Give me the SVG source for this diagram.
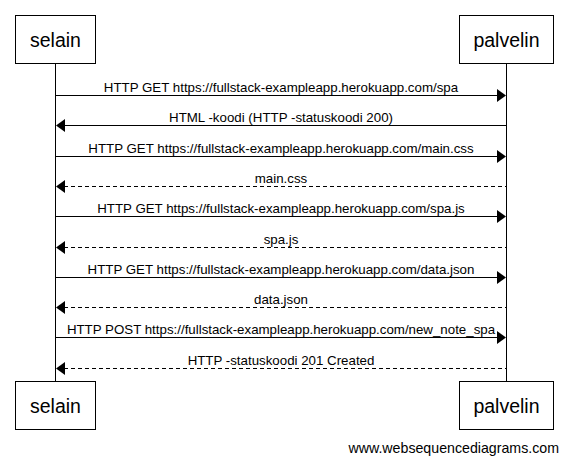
<svg xmlns="http://www.w3.org/2000/svg" width="568" height="464" viewBox="0 0 568 464">
<style>
.box{fill:#fff;stroke:#000;stroke-width:1}
.life{stroke:#000;stroke-width:1}
.pl{font-family:"Liberation Sans",Arial,sans-serif;font-size:19.5px;fill:#000;text-anchor:middle}
.msg{stroke:#000;stroke-width:1;fill:none}
.dash{stroke-dasharray:4,3}
.head{fill:#000;stroke:none}
.lbl{font-family:"Liberation Sans",Arial,sans-serif;font-size:13.3px;fill:#000;text-anchor:middle}
.wm{font-family:"Liberation Sans",Arial,sans-serif;font-size:14.2px;fill:#000;text-anchor:end}
</style>
<rect width="568" height="464" fill="#fff"/>
<g id="selain">
<line class="life" x1="55.5" y1="64" x2="55.5" y2="381"/>
<rect class="box" x="15.5" y="15.5" width="80" height="48"/>
<text class="pl" x="55.5" y="47">selain</text>
<rect class="box" x="15.5" y="381.5" width="80" height="48"/>
<text class="pl" x="55.5" y="413">selain</text>
</g>
<g id="palvelin">
<line class="life" x1="506.5" y1="64" x2="506.5" y2="381"/>
<rect class="box" x="459.5" y="15.5" width="94" height="48"/>
<text class="pl" x="506.5" y="47">palvelin</text>
<rect class="box" x="459.5" y="381.5" width="94" height="48"/>
<text class="pl" x="506.5" y="413">palvelin</text>
</g>
<g id="messages">
<line class="msg" x1="56" y1="95.5" x2="498" y2="95.5"/>
<polygon class="head" points="506,95.5 497,89 497,102"/>
<text class="lbl" x="281" y="91.5">HTTP GET https://fullstack-exampleapp.herokuapp.com/spa</text>

<line class="msg" x1="64" y1="125.5" x2="506" y2="125.5"/>
<polygon class="head" points="56,125.5 65,119 65,132"/>
<text class="lbl" x="281" y="121.5">HTML -koodi (HTTP -statuskoodi 200)</text>

<line class="msg" x1="56" y1="156.5" x2="498" y2="156.5"/>
<polygon class="head" points="506,156.5 497,150 497,163"/>
<text class="lbl" x="281" y="152.5">HTTP GET https://fullstack-exampleapp.herokuapp.com/main.css</text>

<line class="msg dash" x1="64" y1="186.5" x2="506" y2="186.5"/>
<polygon class="head" points="56,186.5 65,180 65,193"/>
<text class="lbl" x="281" y="182.5">main.css</text>

<line class="msg" x1="56" y1="216.5" x2="498" y2="216.5"/>
<polygon class="head" points="506,216.5 497,210 497,223"/>
<text class="lbl" x="281" y="212.5">HTTP GET https://fullstack-exampleapp.herokuapp.com/spa.js</text>

<line class="msg dash" x1="64" y1="247.5" x2="506" y2="247.5"/>
<polygon class="head" points="56,247.5 65,241 65,254"/>
<text class="lbl" x="281" y="243.5">spa.js</text>

<line class="msg" x1="56" y1="277.5" x2="498" y2="277.5"/>
<polygon class="head" points="506,277.5 497,271 497,284"/>
<text class="lbl" x="281" y="273.5">HTTP GET https://fullstack-exampleapp.herokuapp.com/data.json</text>

<line class="msg dash" x1="64" y1="307.5" x2="506" y2="307.5"/>
<polygon class="head" points="56,307.5 65,301 65,314"/>
<text class="lbl" x="281" y="303.5">data.json</text>

<line class="msg" x1="56" y1="337.5" x2="498" y2="337.5"/>
<polygon class="head" points="506,337.5 497,331 497,344"/>
<text class="lbl" x="281" y="333.5">HTTP POST https://fullstack-exampleapp.herokuapp.com/new_note_spa</text>

<line class="msg dash" x1="64" y1="368.5" x2="506" y2="368.5"/>
<polygon class="head" points="56,368.5 65,362 65,375"/>
<text class="lbl" x="281" y="364.5">HTTP -statuskoodi 201 Created</text>
</g>
<text class="wm" x="559" y="453">www.websequencediagrams.com</text>
</svg>
